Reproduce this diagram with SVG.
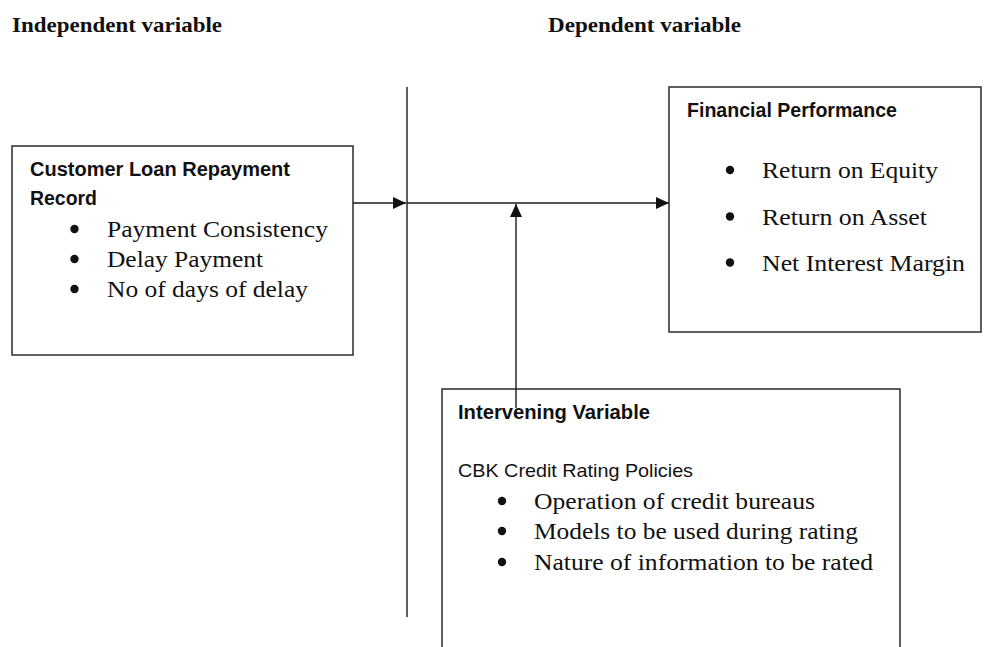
<svg xmlns="http://www.w3.org/2000/svg" width="984" height="647" viewBox="0 0 984 647">
  <style>
    .box { fill: #ffffff; stroke: #2b2b2b; stroke-width: 1.5; }
    .line { fill: none; stroke: #1a1a1a; stroke-width: 1.4; }
    .head { font-family: "Liberation Serif", "Times New Roman", serif; font-weight: bold; font-size: 21px; fill: #111; }
    .title { font-family: "Liberation Sans", Arial, sans-serif; font-weight: bold; font-size: 19.5px; fill: #111; }
    .sub { font-family: "Liberation Sans", Arial, sans-serif; font-size: 18.5px; fill: #111; }
    .item { font-family: "Liberation Serif", "Times New Roman", serif; font-size: 24px; fill: #111; }
    .dot { fill: #111; }
  </style>
  <defs>
    <marker id="arrow" markerUnits="userSpaceOnUse" markerWidth="14" markerHeight="13" refX="13" refY="6" orient="auto">
      <path d="M0,0 L13,6 L0,12 Z" fill="#111"/>
    </marker>
  </defs>

  <rect width="984" height="647" fill="#ffffff"/>

  <!-- column headings -->
  <text class="head" x="12" y="32" textLength="210" lengthAdjust="spacingAndGlyphs">Independent variable</text>
  <text class="head" x="548" y="32" textLength="193" lengthAdjust="spacingAndGlyphs">Dependent variable</text>

  <!-- divider between independent and dependent side -->
  <line class="line" x1="407" y1="87" x2="407" y2="617"/>

  <!-- independent variable -->
  <g id="customer-loan-repayment">
    <rect class="box" x="12" y="146" width="341" height="209"/>
    <text class="title" x="30" y="176" textLength="260" lengthAdjust="spacingAndGlyphs">Customer Loan Repayment</text>
    <text class="title" x="30" y="205" textLength="67" lengthAdjust="spacingAndGlyphs">Record</text>
    <circle class="dot" cx="74.5" cy="229" r="4.2"/>
    <text class="item" x="107" y="237" textLength="221" lengthAdjust="spacingAndGlyphs">Payment Consistency</text>
    <circle class="dot" cx="74.5" cy="259" r="4.2"/>
    <text class="item" x="107" y="267" textLength="156" lengthAdjust="spacingAndGlyphs">Delay Payment</text>
    <circle class="dot" cx="74.5" cy="289" r="4.2"/>
    <text class="item" x="107" y="297" textLength="201" lengthAdjust="spacingAndGlyphs">No of days of delay</text>
  </g>

  <!-- dependent variable -->
  <g id="financial-performance">
    <rect class="box" x="669" y="87" width="312" height="245"/>
    <text class="title" x="687" y="117" textLength="210" lengthAdjust="spacingAndGlyphs">Financial Performance</text>
    <circle class="dot" cx="730" cy="170" r="4.2"/>
    <text class="item" x="762" y="178" textLength="176" lengthAdjust="spacingAndGlyphs">Return on Equity</text>
    <circle class="dot" cx="730" cy="216.5" r="4.2"/>
    <text class="item" x="762" y="225" textLength="165" lengthAdjust="spacingAndGlyphs">Return on Asset</text>
    <circle class="dot" cx="730" cy="262.5" r="4.2"/>
    <text class="item" x="762" y="271" textLength="203" lengthAdjust="spacingAndGlyphs">Net Interest Margin</text>
  </g>

  <!-- intervening variable -->
  <g id="intervening-variable">
    <rect class="box" x="442" y="389" width="458" height="270"/>
    <text class="title" x="458" y="419" textLength="192" lengthAdjust="spacingAndGlyphs">Intervening Variable</text>
    <text class="sub" x="458" y="477" textLength="235" lengthAdjust="spacingAndGlyphs">CBK Credit Rating Policies</text>
    <circle class="dot" cx="502" cy="501" r="4.2"/>
    <text class="item" x="534" y="508.5" textLength="281" lengthAdjust="spacingAndGlyphs">Operation of credit bureaus</text>
    <circle class="dot" cx="502" cy="531" r="4.2"/>
    <text class="item" x="534" y="538.5" textLength="324" lengthAdjust="spacingAndGlyphs">Models to be used during rating</text>
    <circle class="dot" cx="502" cy="562" r="4.2"/>
    <text class="item" x="534" y="570" textLength="339" lengthAdjust="spacingAndGlyphs">Nature of information to be rated</text>
  </g>

  <!-- connectors -->
  <g id="connectors">
    <line class="line" x1="353" y1="203" x2="406" y2="203" marker-end="url(#arrow)"/>
    <line class="line" x1="407" y1="203" x2="669" y2="203" marker-end="url(#arrow)"/>
    <line class="line" x1="516" y1="408" x2="516" y2="204" marker-end="url(#arrow)"/>
  </g>
</svg>
